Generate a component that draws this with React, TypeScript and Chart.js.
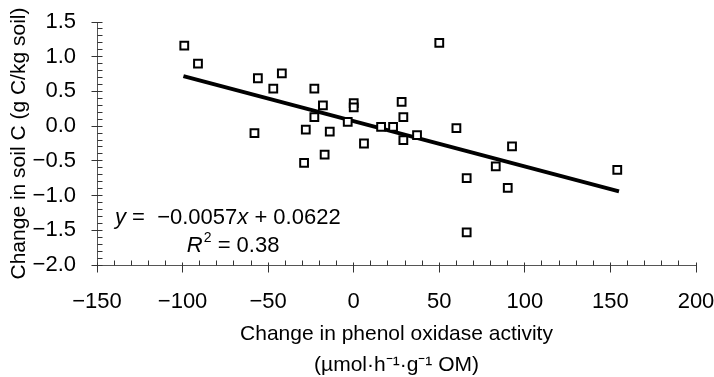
import React, { useEffect, useRef } from "react";
import { Chart, registerables } from "chart.js";

Chart.register(...registerables);

// ---- data ----
const phenolChange = [
  -99, -91, -56, -42, -47, -23, -18, 0, 0, -23, -3.5, 16, 23, -58, -28, -14, 6,
  -29, -17, 50, 28, 29, 29, 37, 60, 92.5, 83, 66, 90, 154, 66,
];
const soilCChange = [
  1.16, 0.9, 0.69, 0.76, 0.54, 0.54, 0.3, 0.33, 0.27, 0.13, 0.06, -0.01, -0.01,
  -0.1, -0.05, -0.08, -0.25, -0.53, -0.41, 1.2, 0.35, 0.13, -0.2, -0.13, -0.03,
  -0.29, -0.58, -0.75, -0.89, -0.63, -1.53,
];
const trendX = [-99.5, 155];
const trendY = [0.72, -0.94];

const xMin = -150;
const xMax = 200;
const xMajor = 50;
const xMinor = 10;
const yMin = -2.0;
const yMax = 1.5;
const yMajor = 0.5;
const yMinorTenths = 1; // minor tick every 0.1

const xTitle = ["Change in phenol oxidase activity", "(\u00b5mol\u00b7h\u207b\u00b9\u00b7g\u207b\u00b9 OM)"];
const yTitle = "Change in soil C (g C/kg soil)";
const eqSlope = "0.0057";
const eqIntercept = "0.0622";
const eqR2 = "0.38";
const eqAnchor = { x: -139.5, y: -1.32 };
const r2Anchor = { x: -97.5, y: -1.72 };

const FONT = '"Liberation Sans", Arial, Helvetica, sans-serif';

const fmt = (v: number, d: number) =>
  (v < -1e-9 ? "\u2212" : "") + Math.abs(v).toFixed(d);

const alignPx = (p: number) => Math.round(p - 0.5) + 0.5;

const axisTicksPlugin = {
  id: "axisTicks",
  afterDraw(chart: any) {
    const { ctx } = chart;
    const xs = chart.scales.x;
    const ys = chart.scales.y;
    const axisY = alignPx(ys.getPixelForValue(yMin));
    const axisX = alignPx(xs.getPixelForValue(xMin));
    ctx.save();
    ctx.strokeStyle = "#333";
    ctx.lineWidth = 1;
    const nX = Math.round((xMax - xMin) / xMinor);
    for (let i = 0; i <= nX; i++) {
      const v = xMin + i * xMinor;
      const px = alignPx(xs.getPixelForValue(v));
      const major = Math.abs(v % xMajor) < 1e-9;
      ctx.beginPath();
      ctx.moveTo(px, axisY - (major ? 3 : 5));
      ctx.lineTo(px, axisY + (major ? 7 : 0));
      ctx.stroke();
    }
    const lo = Math.round(yMin * 10);
    const hi = Math.round(yMax * 10);
    for (let k = lo; k <= hi; k += yMinorTenths) {
      const v = k / 10;
      const py = alignPx(ys.getPixelForValue(v));
      const major = k % Math.round(yMajor * 10) === 0;
      ctx.beginPath();
      ctx.moveTo(axisX - (major ? 6 : 0), py);
      ctx.lineTo(axisX + 5, py);
      ctx.stroke();
    }
    ctx.restore();
  },
};

const equationPlugin = {
  id: "equation",
  afterDraw(chart: any) {
    const { ctx } = chart;
    const xs = chart.scales.x;
    const ys = chart.scales.y;
    const size = 22;
    const normal = `${size}px ${FONT}`;
    const italic = `italic ${size}px ${FONT}`;
    ctx.save();
    ctx.fillStyle = "#000";
    ctx.textBaseline = "middle";
    ctx.textAlign = "left";
    const parts1: [string, string][] = [
      ["y", italic],
      [" =  \u2212" + eqSlope, normal],
      ["x", italic],
      [" + " + eqIntercept, normal],
    ];
    let cx = xs.getPixelForValue(eqAnchor.x);
    let cy = ys.getPixelForValue(eqAnchor.y);
    for (const [t, f] of parts1) {
      ctx.font = f;
      ctx.fillText(t, cx, cy);
      cx += ctx.measureText(t).width;
    }
    cx = xs.getPixelForValue(r2Anchor.x);
    cy = ys.getPixelForValue(r2Anchor.y);
    ctx.font = italic;
    ctx.fillText("R", cx, cy);
    cx += ctx.measureText("R").width + 1;
    ctx.font = `${Math.round(size * 0.62)}px ${FONT}`;
    ctx.fillText("2", cx, cy - 7);
    cx += ctx.measureText("2").width;
    ctx.font = normal;
    ctx.fillText(" = " + eqR2, cx, cy);
    ctx.restore();
  },
};

export default function App() {
  const ref = useRef<HTMLCanvasElement | null>(null);

  useEffect(() => {
    if (!ref.current) return;
    const points = phenolChange.map((x, i) => ({ x, y: soilCChange[i] }));
    const trend = trendX.map((x, i) => ({ x, y: trendY[i] }));
    const chart = new Chart(ref.current, {
      type: "scatter",
      data: {
        datasets: [
          {
            type: "line",
            data: trend,
            borderColor: "#000",
            borderWidth: 4,
            pointRadius: 0,
            fill: false,
            order: 2,
          } as any,
          {
            type: "scatter",
            data: points,
            pointStyle: "rect",
            pointRadius: 5.5,
            pointBackgroundColor: "#fff",
            pointBorderColor: "#000",
            pointBorderWidth: 2,
            order: 1,
          } as any,
        ],
      },
      options: {
        responsive: false,
        animation: false,
        events: [],
        layout: { padding: { top: 22, right: 18, left: 0, bottom: 0 } },
        plugins: {
          legend: { display: false },
          tooltip: { enabled: false },
        },
        scales: {
          x: {
            type: "linear",
            min: xMin,
            max: xMax,
            grid: { display: false },
            border: { display: true, color: "#555", width: 1 },
            ticks: {
              stepSize: xMajor,
              color: "#000",
              padding: 16,
              font: { family: FONT, size: 22 },
              maxRotation: 0,
              callback: (v: any) => fmt(Number(v), 0),
            },
            title: {
              display: true,
              text: xTitle,
              color: "#000",
              font: { family: FONT, size: 21, lineHeight: 1.45 },
              padding: { top: 0, bottom: -3 },
            },
            afterFit: (s: any) => {
              s.height = 112;
              s.paddingLeft = 0;
              s.paddingRight = 0;
            },
          },
          y: {
            type: "linear",
            min: yMin,
            max: yMax,
            grid: { display: false },
            border: { display: true, color: "#555", width: 1 },
            ticks: {
              stepSize: yMajor,
              color: "#000",
              padding: 13,
              font: { family: FONT, size: 22 },
              callback: (v: any) => fmt(Number(v), 1),
            },
            title: {
              display: true,
              text: yTitle,
              color: "#000",
              font: { family: FONT, size: 21, lineHeight: 1.2 },
              padding: { top: 7, bottom: 0 },
            },
            afterFit: (s: any) => {
              s.width = 97;
              s.paddingTop = 0;
              s.paddingBottom = 0;
            },
          },
        },
      },
      plugins: [axisTicksPlugin, equationPlugin],
    } as any);
    return () => chart.destroy();
  }, []);

  return (
    <div
      style={{
        position: "fixed",
        left: 0,
        top: 0,
        width: 714,
        height: 377,
        background: "#fff",
      }}
    >
      <canvas ref={ref} width={714} height={377} />
    </div>
  );
}
